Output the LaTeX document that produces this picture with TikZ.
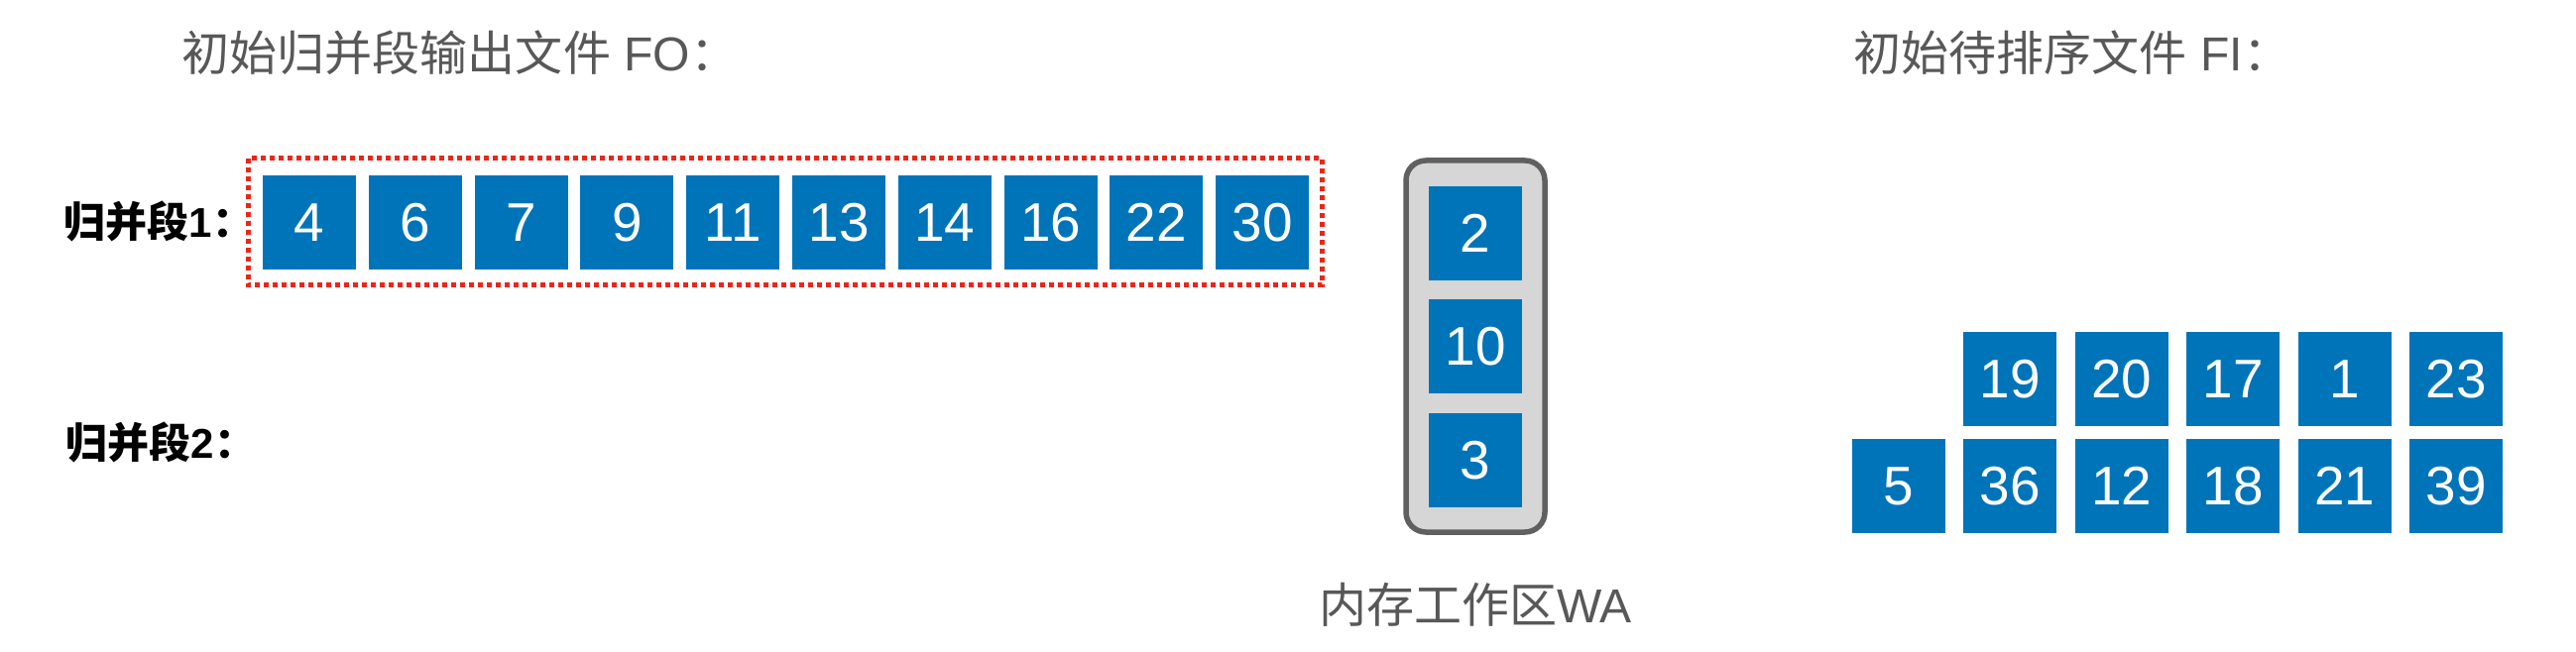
\documentclass[tikz,border=0pt]{standalone}
\usepackage{fontspec}
\setmainfont{Liberation Sans}
\newfontfamily\cjk{Noto Sans CJK SC}
\definecolor{cellblue}{RGB}{0,116,185}
\definecolor{titlegray}{RGB}{88,88,88}
\definecolor{dotred}{RGB}{235,38,25}
\definecolor{wafill}{RGB}{214,214,214}
\definecolor{wadraw}{RGB}{96,96,96}
\tikzset{
  cell/.style={fill=cellblue, text=white, minimum width=0.94cm, minimum height=0.95cm, inner sep=0pt,
     font=\fontsize{15.6}{18}\selectfont},
  titletext/.style={text=titlegray, inner sep=0pt, anchor=base west, font=\fontsize{13.66}{16}\selectfont},
  seglabel/.style={text=black, inner sep=0pt, anchor=base west, font=\fontsize{11.95}{14}\selectfont\bfseries},
}
\begin{document}
\begin{tikzpicture}[x=0.01cm,y=-0.01cm]
\useasboundingbox (0,0) rectangle (2598,658);
% titles
\node[titletext] (tFO) at (183,72) {{\cjk 初始归并段输出文件} FO{\cjk ：}};
\node[titletext] (tFI) at (1869,72) {{\cjk 初始待排序文件} FI{\cjk ：}};
% segment labels
\node[seglabel] (seg1) at (64,240) {{\cjk\bfseries 归并段}1{\cjk\bfseries ：}};
\node[seglabel] (seg2) at (66,462) {{\cjk\bfseries 归并段}2{\cjk\bfseries ：}};
% run 1 cells
\foreach \v [count=\i from 0] in {4,6,7,9,11,13,14,16,22,30}{
  \node[cell] (r\i) at (312+106.8*\i,224.5) {\v};
}
% red dotted frame
\draw[dotred, line width=5*0.2845pt, dash pattern=on 5*0.2845pt off 4*0.2845pt] (250,160) rectangle (1333,288);
% working area
\draw[wadraw, fill=wafill, line width=5.5*0.2845pt, rounded corners=20*0.2845pt] (1418,162) rectangle (1558,537);
\node[cell] (wa1) at (1488,235.5) {2};
\node[cell] (wa2) at (1488,349.5) {10};
\node[cell] (wa3) at (1488,464.5) {3};
\node[titletext, anchor=base] (waLabel) at (1488,628) {{\cjk 内存工作区}WA};
% input file cells
\foreach \v [count=\i from 1] in {19,20,17,1,23}{
  \node[cell] (fa\i) at (1915+112.4*\i,382.5) {\v};
}
\foreach \v [count=\i from 0] in {5,36,12,18,21,39}{
  \node[cell] (fb\i) at (1915+112.4*\i,490.5) {\v};
}
\end{tikzpicture}
\end{document}
